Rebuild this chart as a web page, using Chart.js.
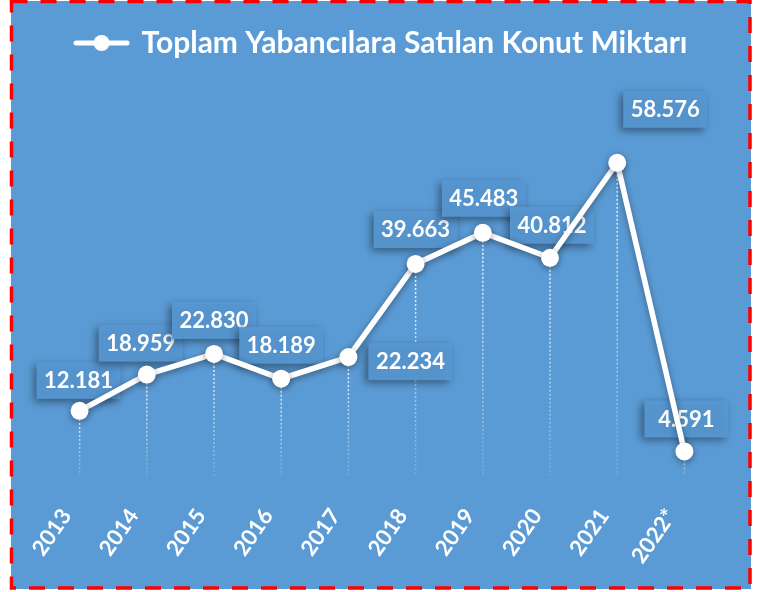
<!DOCTYPE html>
<html>
<head>
<meta charset="utf-8">
<script src="https://cdn.jsdelivr.net/npm/chart.js@4.4.1/dist/chart.umd.min.js"></script>
<style>
html, body { margin: 0; padding: 0; background: #fff; }
#wrap { width: 763px; height: 592px; position: relative; }
</style>
</head>
<body>
<div id="wrap"><canvas id="myChart"></canvas></div>
<script>
let years = ["2013", "2014", "2015", "2016", "2017", "2018", "2019", "2020", "2021", "2022*"]
let sales = [12181, 18959, 22830, 18189, 22234, 39663, 45483, 40812, 58576, 4591]
let salesLabels = sales.map(v => v.toLocaleString('tr-TR'))

// where each value box sits relative to its point (dx, dy)
let labelShift = [[-1, -31], [-6, -32], [0, -34], [0, -34], [62, 4], [0, -35], [1, -35], [2, -33], [48, -54], [2, -33]]

let FONT = 'Lato'

// legend marker: line with a dot in the middle
let marker = document.createElement('canvas')
marker.width = 57
marker.height = 18
let mc = marker.getContext('2d')
mc.strokeStyle = '#fff'
mc.lineWidth = 5
mc.lineCap = 'round'
mc.beginPath(); mc.moveTo(3, 9); mc.lineTo(54, 9); mc.stroke()
mc.fillStyle = '#fff'
mc.beginPath(); mc.arc(28.5, 9, 8, 0, Math.PI * 2); mc.fill()

const backdrop = {
	id: 'backdrop',
	beforeDraw(chart) {
		const c = chart.ctx
		c.save()
		c.fillStyle = '#ffffff'
		c.fillRect(0, 0, chart.width, chart.height)
		c.fillStyle = '#5b9bd5'
		c.fillRect(11, 1, 740, 588)
		c.restore()
	},
	afterDraw(chart) {
		const c = chart.ctx
		c.save()
		c.strokeStyle = '#ff0000'
		c.lineWidth = 3.5
		c.setLineDash([16, 13])
		c.strokeRect(11.5, 1.5, 738.5, 586.5)
		c.restore()
	}
}

const dropLinesAndLabels = {
	id: 'dropLinesAndLabels',
	beforeDatasetsDraw(chart) {
		const c = chart.ctx
		const meta = chart.getDatasetMeta(0)
		const bottom = chart.chartArea.bottom
		c.save()
		c.lineWidth = 1.5
		c.setLineDash([2, 2])
		meta.data.forEach(pt => {
			let g = c.createLinearGradient(0, pt.y, 0, bottom)
			g.addColorStop(0, 'rgba(255,255,255,0.95)')
			g.addColorStop(1, 'rgba(255,255,255,0.15)')
			c.strokeStyle = g
			c.beginPath(); c.moveTo(pt.x, pt.y); c.lineTo(pt.x, bottom); c.stroke()
		})
		c.setLineDash([])
		c.font = 'bold 22px ' + FONT
		c.textAlign = 'center'
		c.textBaseline = 'middle'
		meta.data.forEach((pt, i) => {
			let x = pt.x + labelShift[i][0]
			let y = pt.y + labelShift[i][1]
			c.save()
			c.shadowColor = 'rgba(0,0,0,0.45)'
			c.shadowBlur = 8
			c.shadowOffsetX = -3
			c.shadowOffsetY = 3
			c.fillStyle = 'rgba(88,152,211,0.92)'
			c.fillRect(x - 42, y - 18, 84, 37)
			c.restore()
			c.fillStyle = '#fff'
			c.fillText(salesLabels[i], x, y + 1)
		})
		c.restore()
	},
	beforeDatasetDraw(chart) {
		const c = chart.ctx
		c.save()
		c.shadowColor = 'rgba(0,0,0,0.4)'
		c.shadowBlur = 7
		c.shadowOffsetX = 0
		c.shadowOffsetY = 2
	},
	afterDatasetDraw(chart) {
		chart.ctx.restore()
	}
}

let ctx = document.getElementById("myChart").getContext('2d')
var myChart = new Chart(ctx, {
	type: 'line',
	data: {
		labels: years,
		datasets: [{
			label: 'Toplam Yabancılara Satılan Konut Miktarı',
			data: sales,
			borderColor: '#ffffff',
			borderWidth: 5.5,
			pointRadius: 9,
			pointBackgroundColor: '#ffffff',
			pointBorderWidth: 0,
			tension: 0
		}]
	},
	options: {
		responsive: true,
		maintainAspectRatio: false,
		animation: false,
		layout: { padding: { top: 18, left: 46, right: 45, bottom: 0 } },
		plugins: {
			legend: {
				labels: {
					usePointStyle: true,
					pointStyle: marker,
					pointStyleWidth: 50,
					color: '#ffffff',
					font: { family: FONT, size: 30, weight: 'bold' }
				}
			},
			tooltip: { enabled: false }
		},
		scales: {
			x: {
				offset: true,
				grid: { display: false, drawTicks: false },
				border: { display: false },
				ticks: {
					color: '#ffffff',
					font: { family: FONT, size: 22, weight: 'bold' },
					minRotation: 55,
					maxRotation: 55,
					padding: 28,
					labelOffset: -13
				},
				afterFit(axis) { axis.height = 116 }
			},
			y: { display: false, min: 0, max: 76300 }
		}
	},
	plugins: [backdrop, dropLinesAndLabels]
})
</script>
</body>
</html>
